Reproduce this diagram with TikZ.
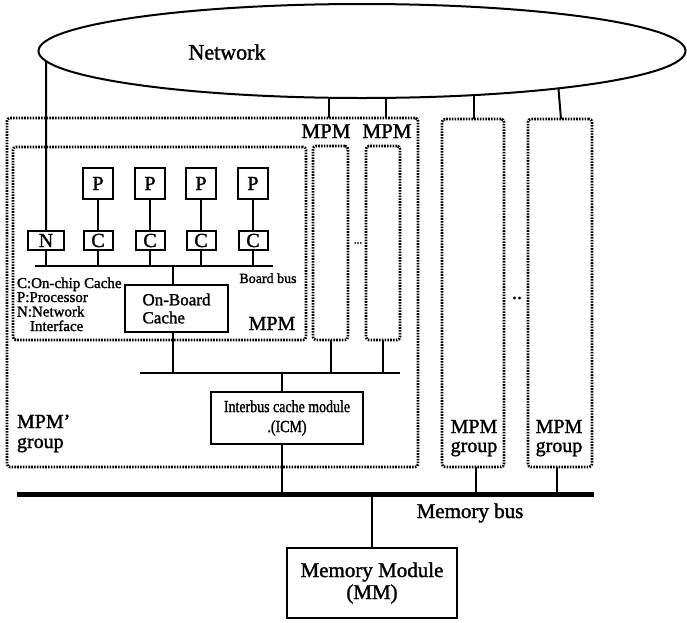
\documentclass[tikz,border=0pt]{standalone}
\usepackage{fontspec}
\setmainfont{Liberation Serif}[UprightFeatures={FakeBold=1.5}]
\newfontfamily\condfont{Liberation Serif}[UprightFeatures={FakeStretch=0.82,FakeBold=1.5}]
\usetikzlibrary{shapes.geometric}
\newcommand\myfs[2]{\fontsize{#1}{#2}\selectfont}
\begin{document}
\begin{tikzpicture}[x=1pt,y=-1pt,
  wire/.style={line width=2pt},
  sbox/.style={draw, line width=2pt, inner sep=0pt, outer sep=0pt},
  dbox/.style={draw, line width=2.6pt, dash pattern=on 1.6pt off 1.2pt, rounded corners=3pt, inner sep=0pt, outer sep=0pt},
  lbl/.style={inner sep=0pt, outer sep=0pt},
]
\useasboundingbox (0,0) rectangle (687,622);

% network
\node[ellipse, draw, line width=2pt, minimum width=647pt, minimum height=94pt, inner sep=0pt] (net) at (362,51) {};
\node[lbl, font=\myfs{22}{22}] (netlbl) at (227,52) {Network};

% dotted groups
\node[dbox, minimum width=411pt, minimum height=349pt] (outer) at (212.5,292.5) {};
\node[dbox, minimum width=293pt, minimum height=193pt] (inner) at (159.5,243.5) {};
\node[dbox, minimum width=35pt, minimum height=194pt] (s1) at (330.5,243) {};
\node[dbox, minimum width=34pt, minimum height=194pt] (s2) at (383,243) {};
\node[dbox, minimum width=62pt, minimum height=348pt] (gA) at (473,293) {};
\node[dbox, minimum width=64pt, minimum height=348pt] (gB) at (560,293) {};

% buses
\coordinate (bbL) at (35,266);
\coordinate (bbR) at (273,266);
\draw[wire] (bbL) -- (bbR);
\coordinate (ibL) at (140,373);
\coordinate (ibR) at (400,373);
\draw[wire] (ibL) -- (ibR);
\coordinate (mbL) at (17,494);
\coordinate (mbR) at (594,494);
\draw[line width=5pt] (mbL) -- (mbR);

% processors and caches
\foreach \i/\x in {1/98,2/150,3/201,4/253} {
  \node[sbox, minimum width=30pt, minimum height=31pt, font=\myfs{20}{20}] (p\i) at (\x,183.5) {P};
  \node[sbox, minimum width=29pt, minimum height=19pt, font=\myfs{20}{20}] (c\i) at (\x,240.5) {C};
  \draw[wire] (p\i) -- (c\i);
  \draw[wire] (c\i.south) -- (c\i.south |- bbL);
}
\node[sbox, minimum width=36pt, minimum height=19pt, font=\myfs{20}{20}] (nbox) at (46,240.5) {N};
\draw[wire] (nbox.south) -- (nbox.south |- bbL);

% on-board cache
\node[sbox, minimum width=103pt, minimum height=47pt, font=\myfs{17}{18}, align=left] (obc) at (176.5,308.5) {On-Board\\Cache};
\coordinate (obtap) at (173,266);
\draw[wire] (obtap) -- (obtap |- obc.north);
\draw[wire] (obtap |- obc.south) -- (obtap |- ibL);
\draw[wire] (s1.south) -- (s1.south |- ibL);
\draw[wire] (s2.south) -- (s2.south |- ibL);

% ICM
\node[sbox, minimum width=152pt, minimum height=52pt, font=\condfont\fontsize{17}{20}\selectfont, align=center] (icm) at (287,418) {Interbus cache module\\.(ICM)};
\coordinate (ictap) at (282,373);
\draw[wire] (ictap) -- (ictap |- icm.north);
\draw[wire] (ictap |- icm.south) -- (ictap |- mbL);
\draw[wire] ([xshift=3pt]gA.south) -- ([xshift=3pt]gA.south |- mbL);
\draw[wire] ([xshift=-3pt]gB.south) -- ([xshift=-3pt]gB.south |- mbL);

% memory module
\node[sbox, minimum width=170pt, minimum height=70pt, font=\myfs{21}{22}, align=center] (mm) at (372,583) {Memory Module\\(MM)};
\draw[wire] (mm.north) -- (mm.north |- mbL);

% network connections
\draw[wire] (net.182) -- (nbox.north);
\draw[wire] (net.235) -- (net.235 |- outer.north);
\draw[wire] (net.297) -- (net.297 |- outer.north);
\draw[wire] (net.338) -- (net.338 |- gA.north);
\draw[wire] (net.349) -- ([xshift=1pt]gB.north);

% labels
\node[lbl, font=\myfs{21}{21}, anchor=base] (mpm1) at (326,138) {MPM};
\node[lbl, font=\myfs{21}{21}, anchor=base] (mpm2) at (387,138) {MPM};
\node[lbl, font=\myfs{20}{20}, anchor=base] (mpmin) at (272,330) {MPM};
\node[lbl, font=\myfs{15}{15}, anchor=base west] (lgC) at (17,288) {C:On-chip Cache};
\node[lbl, font=\myfs{15}{15}, anchor=base west] (lgP) at (17,302) {P:Processor};
\node[lbl, font=\myfs{15}{15}, anchor=base west] (lgN) at (17,316.5) {N:Network};
\node[lbl, font=\myfs{15}{15}, anchor=base west] (lgI) at (30,331) {Interface};
\node[lbl, font=\myfs{14}{14}, anchor=base] (bblbl) at (268,283) {Board bus};
\node[lbl, font=\myfs{20}{20}, anchor=base west] (gl1) at (17,428) {MPM'};
\node[lbl, font=\myfs{20}{20}, anchor=base west] (gl2) at (17,448) {group};
\node[lbl, font=\myfs{20}{20}, anchor=base] (gAl1) at (474,433) {MPM};
\node[lbl, font=\myfs{20}{20}, anchor=base] (gAl2) at (474,452) {group};
\node[lbl, font=\myfs{20}{20}, anchor=base] (gBl1) at (559,433) {MPM};
\node[lbl, font=\myfs{20}{20}, anchor=base] (gBl2) at (559,452) {group};
\node[lbl, font=\myfs{21}{21}, anchor=base] (mblbl) at (470,518) {Memory bus};
\node[lbl, font=\myfs{11}{11}] (dots1) at (358,243) {...};
\node[lbl, font=\myfs{20}{20}] (dots2) at (517,298) {..};
\end{tikzpicture}
\end{document}
